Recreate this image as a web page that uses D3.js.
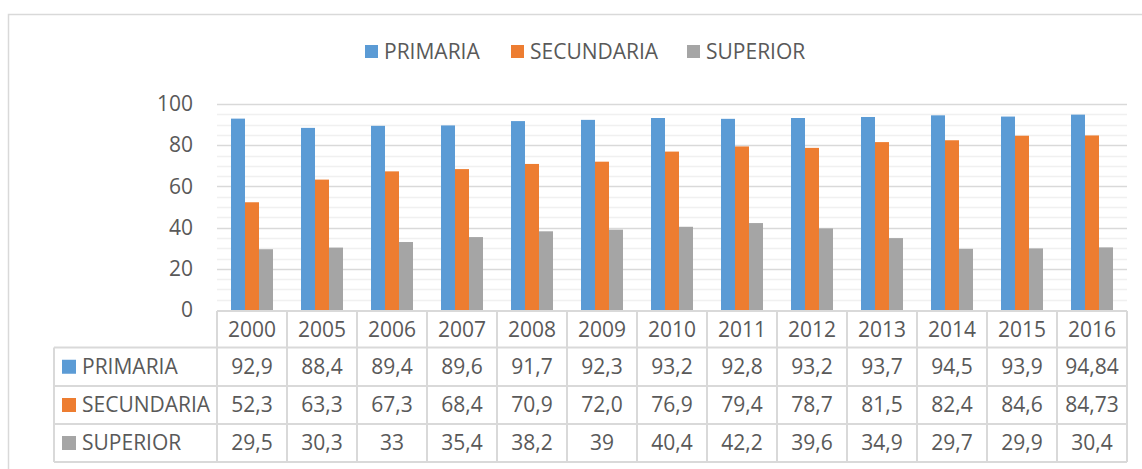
<!DOCTYPE html>
<html>
<head>
<meta charset="utf-8">
<script src="https://cdn.jsdelivr.net/npm/d3@7"></script>
<style>
  html, body { margin: 0; padding: 0; background: #fff; }
  svg { display: block; }
  text { font-family: "Open Sans", sans-serif; fill: #595959; }
</style>
</head>
<body>
<svg id="chart" width="1142" height="469"></svg>
<script>
const years = ["2000","2005","2006","2007","2008","2009","2010","2011","2012","2013","2014","2015","2016"];
const seriesNames = ["PRIMARIA","SECUNDARIA","SUPERIOR"];
const primaria   = [92.9, 88.4, 89.4, 89.6, 91.7, 92.3, 93.2, 92.8, 93.2, 93.7, 94.5, 93.9, 94.84];
const secundaria = [52.3, 63.3, 67.3, 68.4, 70.9, 72.0, 76.9, 79.4, 78.7, 81.5, 82.4, 84.6, 84.73];
const superior   = [29.5, 30.3, 33, 35.4, 38.2, 39, 40.4, 42.2, 39.6, 34.9, 29.7, 29.9, 30.4];
const primariaLabels   = ["92,9","88,4","89,4","89,6","91,7","92,3","93,2","92,8","93,2","93,7","94,5","93,9","94,84"];
const secundariaLabels = ["52,3","63,3","67,3","68,4","70,9","72,0","76,9","79,4","78,7","81,5","82,4","84,6","84,73"];
const superiorLabels   = ["29,5","30,3","33","35,4","38,2","39","40,4","42,2","39,6","34,9","29,7","29,9","30,4"];
const yTicks = [0, 20, 40, 60, 80, 100];
const colors = ["#5B9BD5", "#ED7D31", "#A5A5A5"];

const seriesValues = [primaria, secundaria, superior];
const seriesLabels = [primariaLabels, secundariaLabels, superiorLabels];

const svg = d3.select("#chart");
const fontSize = 21;
const gridMajor = "#d9d9d9", gridMinor = "#f0f0f0", tableLine = "#d9d9d9";

// outer frame
svg.append("rect").attr("x", 8.5).attr("y", 14.5).attr("width", 1200).attr("height", 500)
  .attr("fill", "none").attr("stroke", "#d9d9d9").attr("stroke-width", 1.5);

const x = d3.scaleBand().domain(years).range([217, 1127]).paddingInner(0).paddingOuter(0);
const xs = d3.scaleBand().domain(seriesNames).range([x.bandwidth() * 0.2, x.bandwidth() * 0.8]);
const y = d3.scaleLinear().domain([0, 100]).range([310, 104]);

// minor gridlines
svg.append("g").selectAll("line").data(y.ticks(25).filter(v => v % 20 !== 0))
  .join("line")
  .attr("x1", 217).attr("x2", 1127)
  .attr("y1", d => Math.round(y(d)) + 0.5).attr("y2", d => Math.round(y(d)) + 0.5)
  .attr("stroke", gridMinor).attr("stroke-width", 1.5);
// major gridlines
svg.append("g").selectAll("line").data(yTicks.filter(v => v > 0))
  .join("line")
  .attr("x1", 217).attr("x2", 1127)
  .attr("y1", d => Math.round(y(d)) + 0.5).attr("y2", d => Math.round(y(d)) + 0.5)
  .attr("stroke", gridMajor).attr("stroke-width", 1.5);

// y axis labels
const yAxis = svg.append("g").attr("transform", "translate(217,0)")
  .call(d3.axisLeft(y).tickValues(yTicks).tickSize(0).tickPadding(24));
yAxis.select(".domain").remove();
yAxis.selectAll("text").attr("font-size", fontSize).attr("fill", "#595959")
  .style("font-family", '"Open Sans", sans-serif');

// bars
seriesNames.forEach((name, si) => {
  svg.append("g").selectAll("rect").data(seriesValues[si])
    .join("rect")
    .attr("x", (d, i) => x(years[i]) + xs(name))
    .attr("width", xs.bandwidth())
    .attr("y", d => y(d))
    .attr("height", d => y(0) - y(d))
    .attr("fill", colors[si]);
});

// legend at top
const legendItems = [{x: 365, t: 0}, {x: 511, t: 1}, {x: 687, t: 2}];
legendItems.forEach(it => {
  const g = svg.append("g");
  g.append("rect").attr("x", it.x).attr("y", 45).attr("width", 13).attr("height", 13).attr("fill", colors[it.t]);
  g.append("text").attr("x", it.x + 19).attr("y", 51.5).attr("dy", "0.35em")
    .attr("font-size", fontSize).text(seriesNames[it.t]);
});

// data table
const rowY = [311, 347.5, 386, 424, 462];
const tableLeft = 54, colLeft = 217, tableRight = 1127;
const tg = svg.append("g");
tg.append("line").attr("x1", colLeft).attr("x2", tableRight).attr("y1", rowY[0]).attr("y2", rowY[0])
  .attr("stroke", tableLine).attr("stroke-width", 2);
rowY.slice(1).forEach(ry => {
  tg.append("line").attr("x1", tableLeft).attr("x2", tableRight).attr("y1", ry).attr("y2", ry)
    .attr("stroke", tableLine).attr("stroke-width", 2);
});
tg.append("line").attr("x1", tableLeft).attr("x2", tableLeft).attr("y1", rowY[1]).attr("y2", rowY[4])
  .attr("stroke", tableLine).attr("stroke-width", 2);
years.forEach(yr => {
  tg.append("line").attr("x1", x(yr)).attr("x2", x(yr)).attr("y1", rowY[0]).attr("y2", rowY[4])
    .attr("stroke", tableLine).attr("stroke-width", 2);
});
tg.append("line").attr("x1", tableRight).attr("x2", tableRight).attr("y1", rowY[0]).attr("y2", rowY[4])
  .attr("stroke", tableLine).attr("stroke-width", 2);

// header years
tg.selectAll("text.yr").data(years).join("text").attr("class", "yr")
  .attr("x", d => x(d) + x.bandwidth() / 2)
  .attr("y", (rowY[0] + rowY[1]) / 2).attr("dy", "0.35em")
  .attr("text-anchor", "middle").attr("font-size", fontSize).text(d => d);

// series rows
seriesNames.forEach((name, si) => {
  const cy = (rowY[si + 1] + rowY[si + 2]) / 2;
  tg.append("rect").attr("x", 62).attr("y", cy - 7).attr("width", 14).attr("height", 14).attr("fill", colors[si]);
  tg.append("text").attr("x", 82).attr("y", cy).attr("dy", "0.35em").attr("font-size", fontSize).text(name);
  tg.append("g").selectAll("text").data(seriesLabels[si]).join("text")
    .attr("x", (d, i) => x(years[i]) + x.bandwidth() / 2)
    .attr("y", cy).attr("dy", "0.35em")
    .attr("text-anchor", "middle").attr("font-size", fontSize).text(d => d);
});
</script>
</body>
</html>
